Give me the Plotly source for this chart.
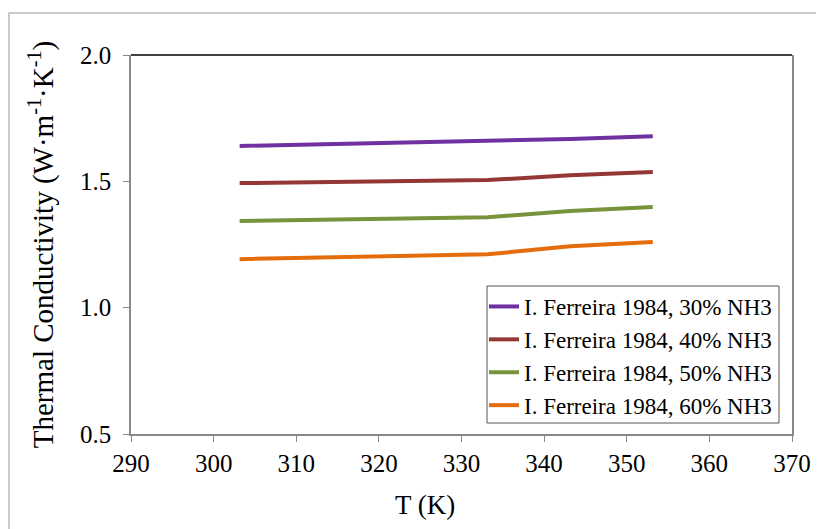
import plotly.graph_objects as go

T = [303.15, 333.15, 343.15, 353.15]
k30 = [1.640, 1.660, 1.668, 1.678]
k40 = [1.493, 1.505, 1.524, 1.537]
k50 = [1.343, 1.358, 1.383, 1.398]
k60 = [1.192, 1.211, 1.243, 1.260]
names = ["I. Ferreira 1984, 30% NH3", "I. Ferreira 1984, 40% NH3",
         "I. Ferreira 1984, 50% NH3", "I. Ferreira 1984, 60% NH3"]
colors = ["#7030A0", "#953735", "#77933C", "#E46C0A"]
series = [k30, k40, k50, k60]

font = "Liberation Serif, Times New Roman, serif"
fig = go.Figure()
for nm, ys, c in zip(names, series, colors):
    fig.add_trace(go.Scatter(x=T, y=ys, mode="lines", name=nm,
                             line=dict(color=c, width=4)))

OFF = 8  # page body offset
px0, px1, py0, py1 = 131, 792, 55, 434  # plot area in page pixels
pw, ph = px1 - px0, py1 - py0
L, Tp = px0 - OFF, py0 - OFF
W, H = 824 - OFF, 529 - OFF
R = W - L - pw
B = H - Tp - ph

def fx(p):
    return (p - px0) / pw

def fy(p):
    return (py1 - p) / ph

fig.update_layout(
    width=W, height=H,
    margin=dict(l=L, r=R, t=Tp, b=B, autoexpand=False),
    paper_bgcolor="white", plot_bgcolor="white",
    font=dict(family=font, size=23, color="black"),
    showlegend=True,
    legend=dict(x=fx(484), y=fy(285), xanchor="left", yanchor="top",
                borderwidth=0, bgcolor="rgba(0,0,0,0)",
                font=dict(family=font, size=23), tracegroupgap=0,
                itemwidth=30),
    xaxis=dict(range=[290, 370], dtick=10, tick0=290, showgrid=False, zeroline=False,
               showline=True, linecolor="#888888", linewidth=1.5,
               ticks="outside", ticklen=6, tickcolor="#888888",
               tickfont=dict(family=font, size=25)),
    yaxis=dict(range=[0.5, 2.0], dtick=0.5, tickformat=".1f", showgrid=False, zeroline=False,
               showline=True, linecolor="#888888", linewidth=1.5, mirror=True,
               ticks="outside", ticklen=6, tickcolor="#888888",
               tickfont=dict(family=font, size=25), ticklabelstandoff=7,
               title=dict(text="Thermal Conductivity (W·m<sup>-1</sup>·K<sup>-1</sup>)",
                          font=dict(family=font, size=29), standoff=18)),
    annotations=[
        dict(text="T (K)", xref="paper", yref="paper",
             x=fx(425), y=fy(505), xanchor="center", yanchor="middle",
             showarrow=False, font=dict(family=font, size=27)),
    ],
    shapes=[
        dict(type="line", xref="paper", yref="paper", x0=0, x1=1, y0=1, y1=1,
             line=dict(color="black", width=1.5)),
        dict(type="rect", xref="paper", yref="paper",
             x0=fx(9), x1=1.2, y0=-0.5, y1=fy(13),
             line=dict(color="#BBBBBB", width=1.5), layer="below"),
        dict(type="rect", xref="paper", yref="paper",
             x0=fx(487), x1=fx(779), y0=fy(423), y1=fy(286),
             line=dict(color="#555555", width=1), fillcolor="white", layer="below"),
    ],
)

fig.write_html("out.html")
